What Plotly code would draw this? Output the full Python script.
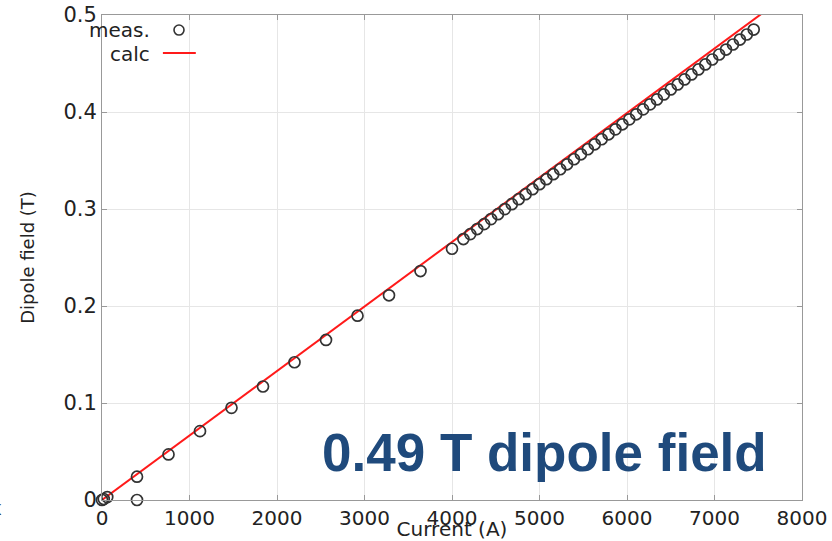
import plotly.graph_objects as go

# Measured dipole field vs current
meas_current = [0, 20, 60, 400, 400, 760, 1120, 1480, 1840, 2200, 2560, 2920, 3280, 3640, 4000,
                4130, 4209, 4288, 4367, 4446, 4525, 4604, 4683, 4762, 4841, 4920, 4999, 5078,
                5157, 5236, 5315, 5394, 5473, 5552, 5631, 5710, 5789, 5868, 5947, 6026, 6105,
                6184, 6263, 6342, 6421, 6500, 6579, 6658, 6737, 6816, 6895, 6974, 7053, 7132,
                7211, 7290, 7369, 7448]
meas_field = [0.000, 0.001, 0.003, 0.000, 0.024, 0.047, 0.071, 0.095, 0.117, 0.142, 0.165, 0.190,
              0.211, 0.236, 0.259,
              0.2690, 0.2741, 0.2793, 0.2844, 0.2896, 0.2947, 0.2999, 0.3050, 0.3101, 0.3153,
              0.3204, 0.3256, 0.3307, 0.3359, 0.3410, 0.3461, 0.3513, 0.3564, 0.3616, 0.3667,
              0.3719, 0.3770, 0.3821, 0.3873, 0.3924, 0.3976, 0.4027, 0.4079, 0.4130, 0.4181,
              0.4233, 0.4284, 0.4336, 0.4387, 0.4439, 0.4490, 0.4541, 0.4593, 0.4644, 0.4696,
              0.4747, 0.4799, 0.4850]

# Calculated line
calc_current = [0, 8000]
calc_field = [0.0, 0.532]

x_ticks = [0, 1000, 2000, 3000, 4000, 5000, 6000, 7000, 8000]
y_ticks = [0, 0.1, 0.2, 0.3, 0.4, 0.5]
y_tick_text = ["0", "0.1", "0.2", "0.3", "0.4", "0.5"]

FONT = "DejaVu Sans"
TXT = "#222222"

fig = go.Figure()
fig.add_trace(go.Scatter(x=calc_current, y=calc_field, mode="lines",
                         line=dict(color="#ff1a1a", width=2), name="calc"))
fig.add_trace(go.Scatter(x=meas_current, y=meas_field, mode="markers",
                         marker=dict(symbol="circle-open", size=11, color="#333333",
                                     line=dict(width=1.7, color="#333333")),
                         name="meas.", cliponaxis=False))

axis_common = dict(showline=True, linecolor="#999999", linewidth=1, mirror="ticks",
                   ticks="inside", ticklen=5, tickcolor="#999999",
                   showgrid=True, gridcolor="#e6e6e6", gridwidth=1,
                   zeroline=False)

fig.update_xaxes(range=[0, 8000], tickvals=x_ticks, **axis_common,
                 tickfont=dict(family=FONT, size=20, color=TXT),
                 title=dict(text="Current (A)", font=dict(family=FONT, size=20, color=TXT),
                            standoff=4))
fig.update_yaxes(range=[0, 0.5], tickvals=y_ticks, ticktext=y_tick_text, **axis_common,
                 tickfont=dict(family=FONT, size=21, color=TXT),
                 title=dict(text="Dipole field (T)", font=dict(family=FONT, size=18, color=TXT),
                            standoff=24))

annotations = [
    dict(text="<b>0.49 T dipole field</b>", xref="paper", yref="paper",
         x=0.312, y=0.098, xanchor="left", yanchor="middle", showarrow=False,
         font=dict(family="Liberation Sans", size=53, color="#1f4a7c")),
    dict(text="meas.", xref="paper", yref="paper", x=0.0714, y=0.969,
         xanchor="right", yanchor="middle", showarrow=False,
         font=dict(family=FONT, size=20, color=TXT)),
    dict(text="calc", xref="paper", yref="paper", x=0.0714, y=0.920,
         xanchor="right", yanchor="middle", showarrow=False,
         font=dict(family=FONT, size=20, color=TXT)),
    dict(text="x", xref="paper", yref="paper", x=-0.14, y=-0.017,
         xanchor="right", yanchor="middle", showarrow=False,
         font=dict(family=FONT, size=20, color="#333333")),
]

shapes = [
    dict(type="circle", xref="paper", yref="paper", xsizemode="pixel", ysizemode="pixel",
         xanchor=0.11, yanchor=0.969, x0=-5, x1=5, y0=-5, y1=5,
         line=dict(color="#333333", width=1.6)),
    dict(type="line", xref="paper", yref="paper", x0=0.087, x1=0.134, y0=0.9216, y1=0.9216,
         line=dict(color="#ff1a1a", width=2)),
]

fig.update_layout(width=832, height=541, showlegend=False,
                  margin=dict(l=102, r=30, t=15, b=41, autoexpand=False),
                  paper_bgcolor="white", plot_bgcolor="white",
                  annotations=annotations, shapes=shapes)

fig.write_html("out.html", config={"displayModeBar": False},
               post_script="document.body.style.margin='0';document.body.style.overflow='hidden';")
